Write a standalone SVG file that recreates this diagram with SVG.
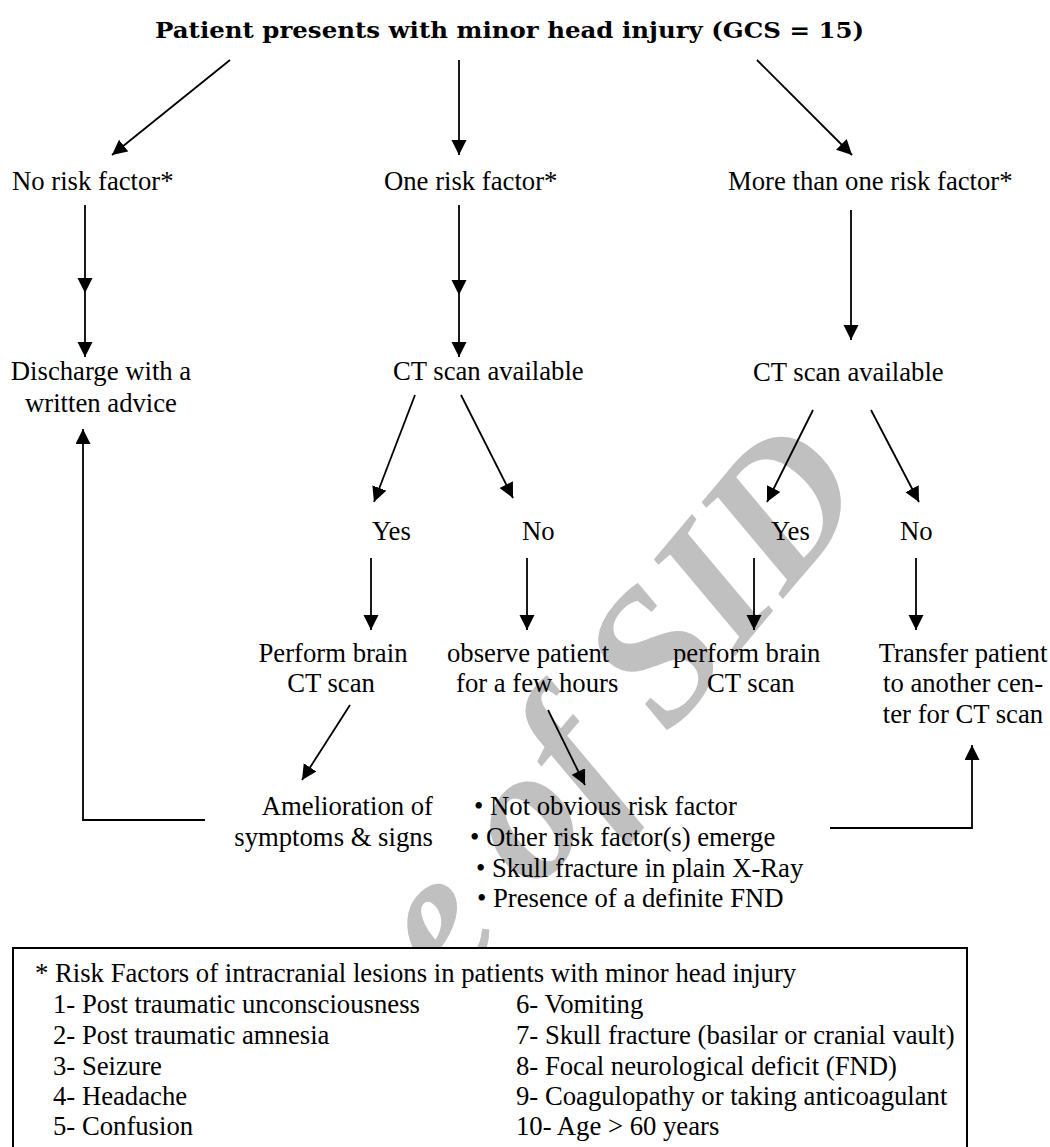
<svg xmlns="http://www.w3.org/2000/svg" width="1050" height="1147" viewBox="0 0 1050 1147">
<style>
.t{font-family:"Liberation Serif","Times New Roman",serif;font-size:26.7px;fill:#000}
.m{text-anchor:middle}
.e{text-anchor:end}
.ttl{font-family:"DejaVu Serif","Liberation Serif",serif;font-weight:bold;font-size:22px;fill:#000}
.c{fill:none;stroke:#000;stroke-width:1.8}
.wm{font-family:"Liberation Serif","Times New Roman",serif;font-weight:bold;font-style:italic;font-size:190px;fill:#c0c0c0}
</style>
<defs>
<marker id="ah" markerUnits="userSpaceOnUse" markerWidth="16" markerHeight="16" refX="15" refY="7.5" orient="auto">
<path d="M0,0 L15,7.5 L0,15 Z" fill="#000"/>
</marker>
</defs>
<rect width="1050" height="1147" fill="#fff"/>
<g id="watermark">
<text class="wm" x="872" y="493" text-anchor="end" transform="rotate(-50 872 493)">e of SID</text>
</g>
<g id="legend">
<rect x="13" y="948" width="954" height="220" fill="#fff" stroke="#000" stroke-width="2"/>
<text class="t" x="35" y="982">* Risk Factors of intracranial lesions in patients with minor head injury</text>
<text class="t" x="53" y="1013">1- Post traumatic unconsciousness</text>
<text class="t" x="53" y="1044">2- Post traumatic amnesia</text>
<text class="t" x="53" y="1075">3- Seizure</text>
<text class="t" x="53" y="1105">4- Headache</text>
<text class="t" x="53" y="1135">5- Confusion</text>
<text class="t" x="516" y="1013">6- Vomiting</text>
<text class="t" x="516" y="1044">7- Skull fracture (basilar or cranial vault)</text>
<text class="t" x="516" y="1075">8- Focal neurological deficit (FND)</text>
<text class="t" x="516" y="1105">9- Coagulopathy or taking anticoagulant</text>
<text class="t" x="516" y="1135">10- Age &gt; 60 years</text>
</g>
<g id="n-start"><text class="ttl" x="155" y="38" textLength="709" lengthAdjust="spacingAndGlyphs">Patient presents with minor head injury (GCS = 15)</text></g>
<g id="n-norisk"><text class="t" x="12" y="190">No risk factor*</text></g>
<g id="n-onerisk"><text class="t" x="384" y="190">One risk factor*</text></g>
<g id="n-morerisk"><text class="t" x="728" y="190">More than one risk factor*</text></g>
<g id="n-discharge"><text class="t m" x="101" y="380">Discharge with a</text><text class="t m" x="101" y="412">written advice</text></g>
<g id="n-ct1"><text class="t" x="393" y="380">CT scan available</text></g>
<g id="n-ct2"><text class="t" x="753" y="381">CT scan available</text></g>
<g id="n-yes1"><text class="t" x="372" y="540">Yes</text></g>
<g id="n-no1"><text class="t" x="522" y="540">No</text></g>
<g id="n-yes2"><text class="t" x="771" y="540">Yes</text></g>
<g id="n-no2"><text class="t" x="900" y="540">No</text></g>
<g id="n-perform1"><text class="t m" x="333" y="662">Perform brain</text><text class="t m" x="331" y="692">CT scan</text></g>
<g id="n-observe"><text class="t" x="447" y="662">observe patient</text><text class="t" x="456" y="692">for a few hours</text></g>
<g id="n-perform2"><text class="t" x="673" y="662">perform brain</text><text class="t" x="707" y="692">CT scan</text></g>
<g id="n-transfer"><text class="t m" x="963" y="662">Transfer patient</text><text class="t m" x="963" y="692">to another cen-</text><text class="t m" x="963" y="723">ter for CT scan</text></g>
<g id="n-amelioration"><text class="t e" x="433" y="815">Amelioration of</text><text class="t e" x="433" y="846">symptoms &amp; signs</text></g>
<g id="n-criteria">
<text class="t" x="474" y="815">• Not obvious risk factor</text>
<text class="t" x="470" y="846">• Other risk factor(s) emerge</text>
<text class="t" x="476" y="877">• Skull fracture in plain X-Ray</text>
<text class="t" x="477" y="907">• Presence of a definite FND</text>
</g>
<g id="connectors" class="c" marker-end="url(#ah)">
<path d="M230,60 L112,155"/>
<path d="M459,60 V155"/>
<path d="M757,60 L852,155"/>
<path d="M85,205 V293"/>
<path d="M85,293 V357"/>
<path d="M459,205 V295"/>
<path d="M459,295 V357"/>
<path d="M851,210 V340"/>
<path d="M415,395 L374,502"/>
<path d="M461,395 L513,498"/>
<path d="M813,410 L767,502"/>
<path d="M871,410 L919,502"/>
<path d="M371,558 V630"/>
<path d="M527,558 V630"/>
<path d="M754,558 V630"/>
<path d="M916,558 V630"/>
<path d="M350,705 L302,780"/>
<path d="M548,710 L585,785"/>
<path d="M205,820 H83 V429"/>
<path d="M830,828 H972 V745"/>
</g>
</svg>
